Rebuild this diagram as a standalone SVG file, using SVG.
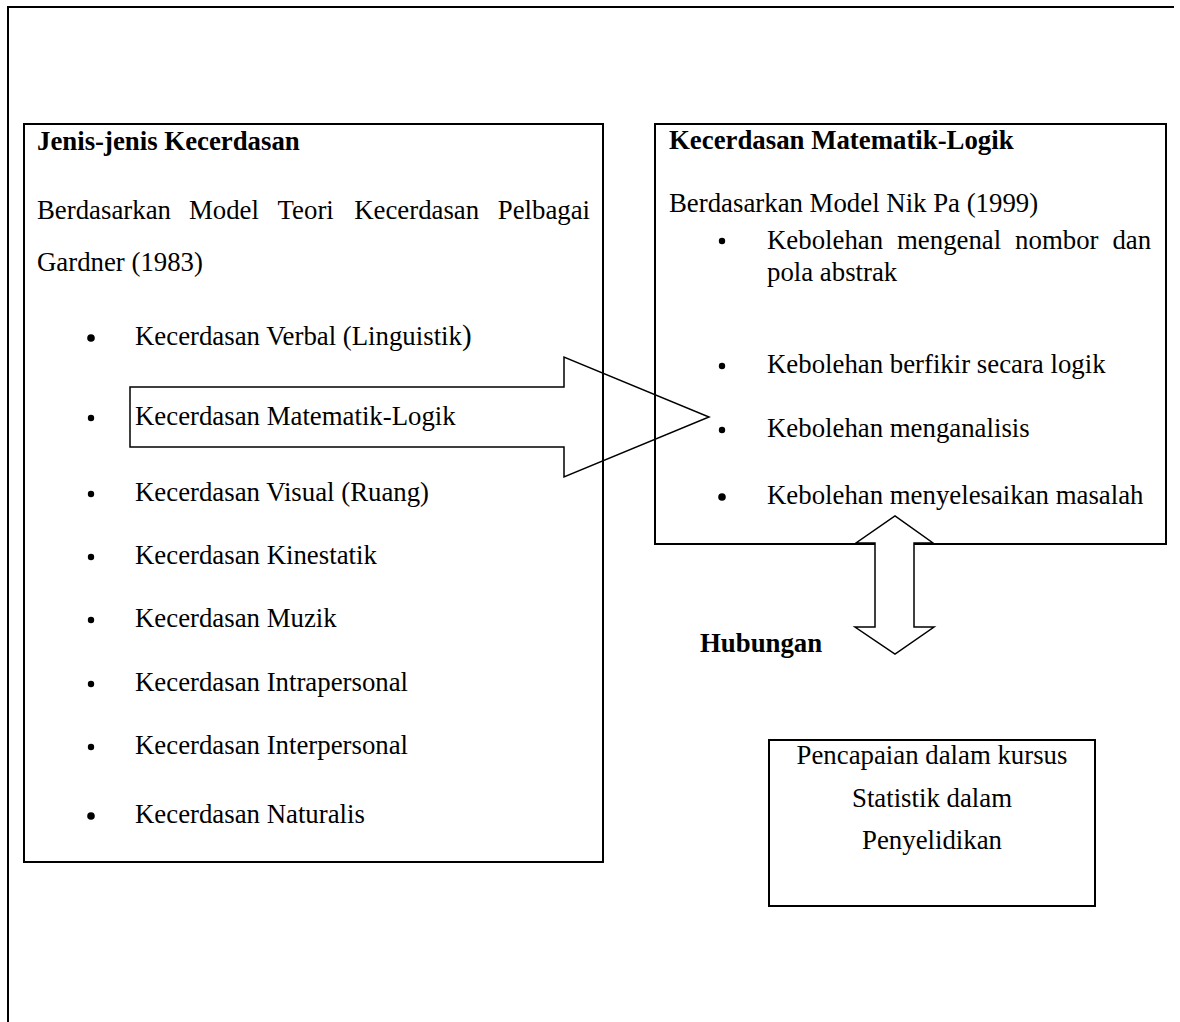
<svg xmlns="http://www.w3.org/2000/svg" width="1180" height="1022" viewBox="0 0 1180 1022">
<style>
text{font-family:"Liberation Serif","Times New Roman",serif;font-size:26.8px;fill:#000}
.b{font-weight:bold}
.box{fill:none;stroke:#000;stroke-width:2}
.frame{fill:none;stroke:#000;stroke-width:2}
.arrow{stroke:#000;stroke-width:1.5;stroke-linejoin:miter}
.dot{fill:#000}
</style>
<rect width="1180" height="1022" fill="#fff"/>
<path class="frame" d="M8,1022 V7 H1174"/>
<g id="node-jenis">
<rect class="box" x="24" y="124" width="579" height="738"/>
<text class="b" x="37" y="150">Jenis-jenis Kecerdasan</text>
<text y="219"><tspan x="37">Berdasarkan</tspan><tspan x="189">Model</tspan><tspan x="277.6">Teori</tspan><tspan x="354.2">Kecerdasan</tspan><tspan x="497.8">Pelbagai</tspan></text>
<text x="37" y="271">Gardner (1983)</text>
<circle class="dot" cx="91" cy="338" r="3.8"/><text x="135" y="345">Kecerdasan Verbal (Linguistik<tspan style="font-size:29px">)</tspan></text>
<circle class="dot" cx="91" cy="418" r="3.2"/><text x="135" y="425">Kecerdasan Matematik-Logik</text>
<circle class="dot" cx="91" cy="494" r="3.2"/><text x="135" y="501">Kecerdasan Visual (Ruang)</text>
<circle class="dot" cx="91" cy="557" r="3.2"/><text x="135" y="564">Kecerdasan Kinestatik</text>
<circle class="dot" cx="91" cy="620" r="3.2"/><text x="135" y="627">Kecerdasan Muzik</text>
<circle class="dot" cx="91" cy="684" r="3.2"/><text x="135" y="691">Kecerdasan Intrapersonal</text>
<circle class="dot" cx="91" cy="747" r="3.2"/><text x="135" y="754">Kecerdasan Interpersonal</text>
<circle class="dot" cx="91" cy="816" r="3.8"/><text x="135" y="823">Kecerdasan Naturalis</text>
</g>
<g id="node-matematik">
<rect class="box" x="655" y="124" width="511" height="420"/>
<text class="b" x="669" y="149">Kecerdasan Matematik-Logik</text>
<text x="669" y="212">Berdasarkan Model Nik Pa (1999)</text>
<circle class="dot" cx="722" cy="241" r="3.2"/>
<text y="249"><tspan x="767">Kebolehan</tspan><tspan x="897">mengenal</tspan><tspan x="1015.1">nombor</tspan><tspan x="1112.4">dan</tspan></text>
<text x="767" y="281">pola abstrak</text>
<circle class="dot" cx="722" cy="366" r="3.2"/><text x="767" y="373">Kebolehan berfikir secara logik</text>
<circle class="dot" cx="722" cy="430" r="3.2"/><text x="767" y="437">Kebolehan menganalisis</text>
<circle class="dot" cx="722" cy="497" r="3.8"/><text x="767" y="504">Kebolehan menyelesaikan masalah</text>
</g>
<g id="node-pencapaian">
<rect class="box" x="769" y="740" width="326" height="166"/>
<text x="932" y="764" text-anchor="middle">Pencapaian dalam kursus</text>
<text x="932" y="807" text-anchor="middle">Statistik dalam</text>
<text x="932" y="849" text-anchor="middle">Penyelidikan</text>
</g>
<g id="connectors">
<polygon class="arrow" fill="none" points="130,387 564,387 564,357 709,417 564,477 564,447 130,447"/>
<polygon class="arrow" fill="#fff" points="875,543 856,543 895,516 933,543 914,543 914,627 934,627 895,654 855,627 875,627"/>
<text class="b" x="700" y="652">Hubungan</text>
</g>
</svg>
